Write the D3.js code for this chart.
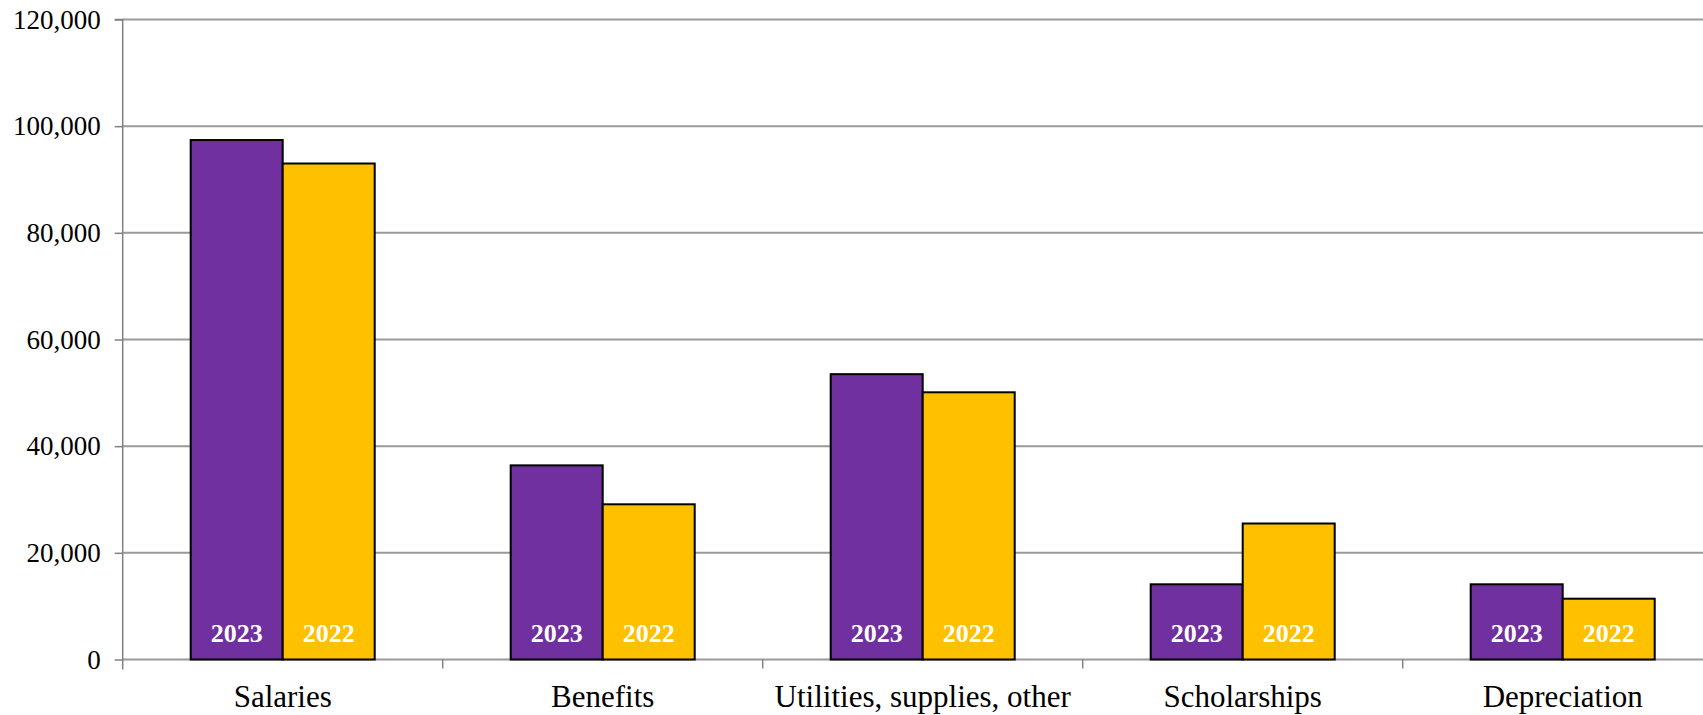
<!DOCTYPE html>
<html>
<head>
<meta charset="utf-8">
<script src="https://cdn.jsdelivr.net/npm/d3@7"></script>
<style>
  html, body { margin: 0; padding: 0; background: #fff; }
  svg { display: block; }
</style>
</head>
<body>
<svg id="chart" width="1703" height="715"></svg>
<script>
const categories = ["Salaries", "Benefits", "Utilities, supplies, other", "Scholarships", "Depreciation"];
const seriesNames = ["2023", "2022"];
const values2023 = [97400, 36400, 53500, 14100, 14100];
const values2022 = [93000, 29100, 50100, 25500, 11400];
const yTicks = [0, 20000, 40000, 60000, 80000, 100000, 120000];
const colors = { "2023": "#7030A0", "2022": "#FFC000" };

(function () {
const svg = d3.select("#chart");
const plotLeft = 122.7, plotTop = 19.5, plotBottom = 659.5, step = 320;
const plotRight = plotLeft + step * categories.length;

const x = d3.scaleBand().domain(categories).range([plotLeft, plotRight]).padding(0);
const xs = d3.scaleBand().domain(seriesNames).range([0, x.bandwidth()]).paddingInner(0).paddingOuter(0.739);
const y = d3.scaleLinear().domain([0, 120000]).range([plotBottom, plotTop]);

const font = "'Liberation Serif', 'Times New Roman', serif";

// gridlines
svg.append("g").selectAll("line").data(yTicks).join("line")
  .attr("x1", plotLeft).attr("x2", 1703)
  .attr("y1", d => y(d)).attr("y2", d => y(d))
  .attr("stroke", "#9a9a9a").attr("stroke-width", 2);

// y axis
const yAxis = d3.axisLeft(y).tickValues(yTicks).tickSize(8).tickPadding(14)
  .tickFormat(d3.format(","));
const gy = svg.append("g").attr("transform", `translate(${plotLeft},0)`).call(yAxis);
gy.select(".domain").attr("stroke", "#808080").attr("stroke-width", 1.5)
  .attr("d", `M-8,${plotTop}H0V${plotBottom + 10}`);
gy.selectAll(".tick line").attr("stroke", "#808080").attr("stroke-width", 1.5);
gy.selectAll(".tick text").attr("font-family", font).attr("font-size", 27).attr("fill", "#000");

// x axis
const xAxis = d3.axisBottom(x).tickSize(0).tickPadding(0);
const gx = svg.append("g").attr("transform", `translate(0,${plotBottom})`).call(xAxis);
gx.select(".domain").remove();
gx.selectAll(".tick text").attr("font-family", font).attr("font-size", 31).attr("fill", "#000")
  .attr("dy", null).attr("y", 47.5);
// category separator ticks
svg.append("g").selectAll("line").data(categories.slice(1)).join("line")
  .attr("x1", d => x(d)).attr("x2", d => x(d))
  .attr("y1", plotBottom).attr("y2", plotBottom + 9)
  .attr("stroke", "#808080").attr("stroke-width", 1.5);

// bars
const data = categories.map((c, i) => ({ cat: c, vals: [
  { s: "2023", v: values2023[i] }, { s: "2022", v: values2022[i] } ] }));

const groups = svg.append("g").selectAll("g").data(data).join("g")
  .attr("transform", d => `translate(${x(d.cat)},0)`);

groups.selectAll("rect").data(d => d.vals).join("rect")
  .attr("x", d => xs(d.s)).attr("width", xs.bandwidth())
  .attr("y", d => y(d.v)).attr("height", d => y(0) - y(d.v))
  .attr("fill", d => colors[d.s]).attr("stroke", "#000").attr("stroke-width", 2);

groups.selectAll("text").data(d => d.vals).join("text")
  .attr("x", d => xs(d.s) + xs.bandwidth() / 2)
  .attr("y", 641.7)
  .attr("text-anchor", "middle")
  .attr("font-family", font).attr("font-size", 26).attr("font-weight", "bold")
  .attr("fill", "#fff")
  .text(d => d.s);
})();
</script>
</body>
</html>
